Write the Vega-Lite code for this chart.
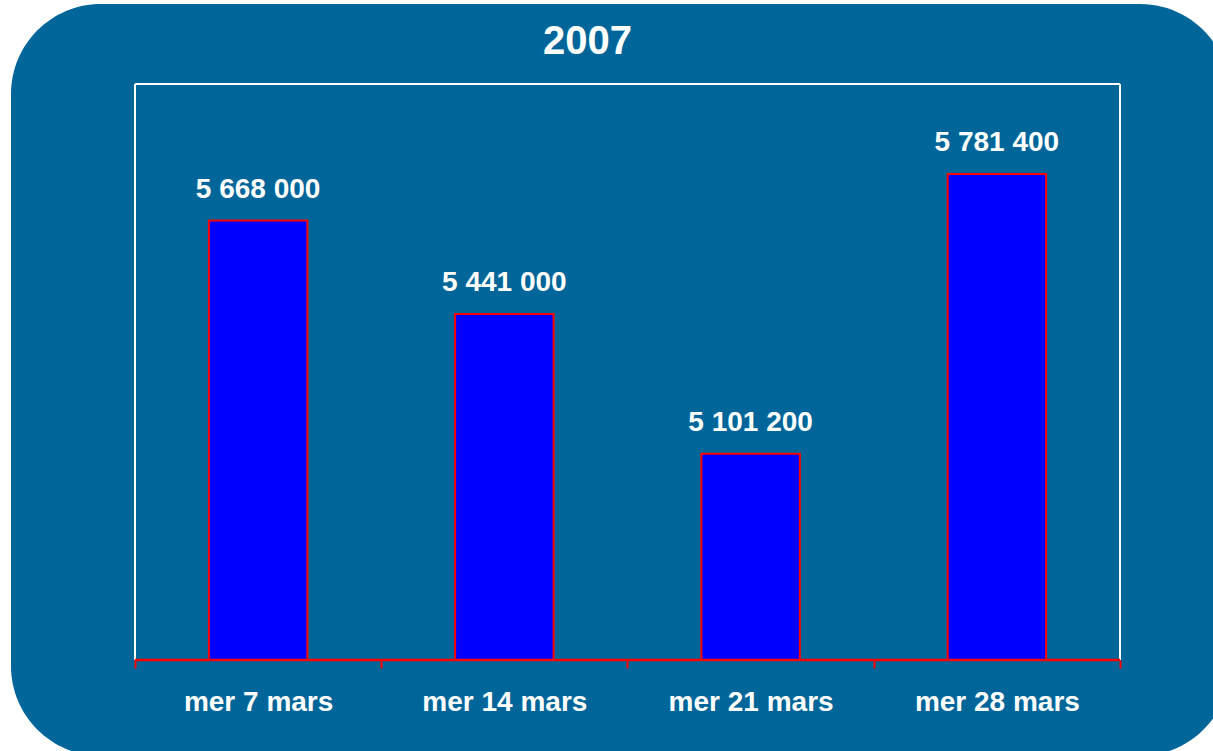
{
  "$schema": "https://vega.github.io/schema/vega-lite/v6.json",
  "width": 1219,
  "height": 752,
  "autosize": {"type": "none"},
  "padding": {"left": 11, "top": 4, "right": 0, "bottom": 0},
  "background": "white",
  "title": {
    "text": "2007",
    "color": "white",
    "font": "Liberation Sans",
    "fontSize": 40,
    "fontWeight": "bold",
    "frame": "group",
    "anchor": "middle",
    "baseline": "alphabetic",
    "offset": -90,
    "dx": -33
  },
  "data": {
    "values": [
      {"date": "mer 7 mars", "audience": 5668000},
      {"date": "mer 14 mars", "audience": 5441000},
      {"date": "mer 21 mars", "audience": 5101200},
      {"date": "mer 28 mars", "audience": 5781400}
    ]
  },
  "layer": [
    {
      "mark": {"type": "bar", "fill": "#0000FF", "stroke": "#FF0000", "strokeWidth": 2, "width": {"band": 0.4}},
      "encoding": {
        "x": {
          "field": "date",
          "type": "nominal",
          "sort": null,
          "scale": {"paddingInner": 0, "paddingOuter": 0.4751, "align": 0.5299, "round": false},
          "axis": {
            "title": null,
            "domain": false,
            "tickBand": "extent",
            "tickColor": "#FF0000",
            "tickWidth": 2,
            "tickSize": 8,
            "offset": -96,
            "labelAngle": 0,
            "labelColor": "white",
            "labelFont": "Liberation Sans",
            "labelFontSize": 28,
            "labelFontWeight": "bold",
            "labelBaseline": "alphabetic",
            "labelPadding": 42
          }
        },
        "y": {
          "field": "audience",
          "type": "quantitative",
          "scale": {"domain": [4366667, 6194444], "nice": false, "zero": false},
          "axis": null
        },
        "y2": {"datum": 4600000}
      }
    },
    {
      "mark": {"type": "text", "color": "white", "font": "Liberation Sans", "fontSize": 28, "fontWeight": "bold", "baseline": "alphabetic", "dy": -23},
      "encoding": {
        "x": {"field": "date", "type": "nominal", "sort": null},
        "y": {"field": "audience", "type": "quantitative"},
        "text": {"field": "audience", "type": "quantitative", "format": ",.0f"}
      }
    },
    {
      "data": {"values": [{}]},
      "mark": {"type": "rule", "color": "white", "strokeWidth": 2},
      "encoding": {
        "x": {"datum": "mer 7 mars", "type": "nominal", "bandPosition": 0},
        "y": {"datum": 4600000, "type": "quantitative"},
        "y2": {"datum": 6000000}
      }
    },
    {
      "data": {"values": [{}]},
      "mark": {"type": "rule", "color": "white", "strokeWidth": 2},
      "encoding": {
        "x": {"datum": "mer 28 mars", "type": "nominal", "bandPosition": 1},
        "y": {"datum": 4600000, "type": "quantitative"},
        "y2": {"datum": 6000000}
      }
    },
    {
      "data": {"values": [{}]},
      "mark": {"type": "rule", "color": "white", "strokeWidth": 2},
      "encoding": {
        "x": {"datum": "mer 7 mars", "type": "nominal", "bandPosition": 0},
        "x2": {"datum": "mer 28 mars", "bandPosition": 1},
        "y": {"datum": 6000000, "type": "quantitative"}
      }
    },
    {
      "data": {"values": [{}]},
      "mark": {"type": "rule", "color": "#FF0000", "strokeWidth": 2.5},
      "encoding": {
        "x": {"datum": "mer 7 mars", "type": "nominal", "bandPosition": 0},
        "x2": {"datum": "mer 28 mars", "bandPosition": 1},
        "y": {"datum": 4600000, "type": "quantitative"}
      }
    }
  ],
  "config": {
    "view": {"fill": "#006699", "stroke": null, "cornerRadius": 90},
    "locale": {"number": {"decimal": ",", "thousands": " ", "grouping": [3], "currency": ["", " €"]}}
  }
}
